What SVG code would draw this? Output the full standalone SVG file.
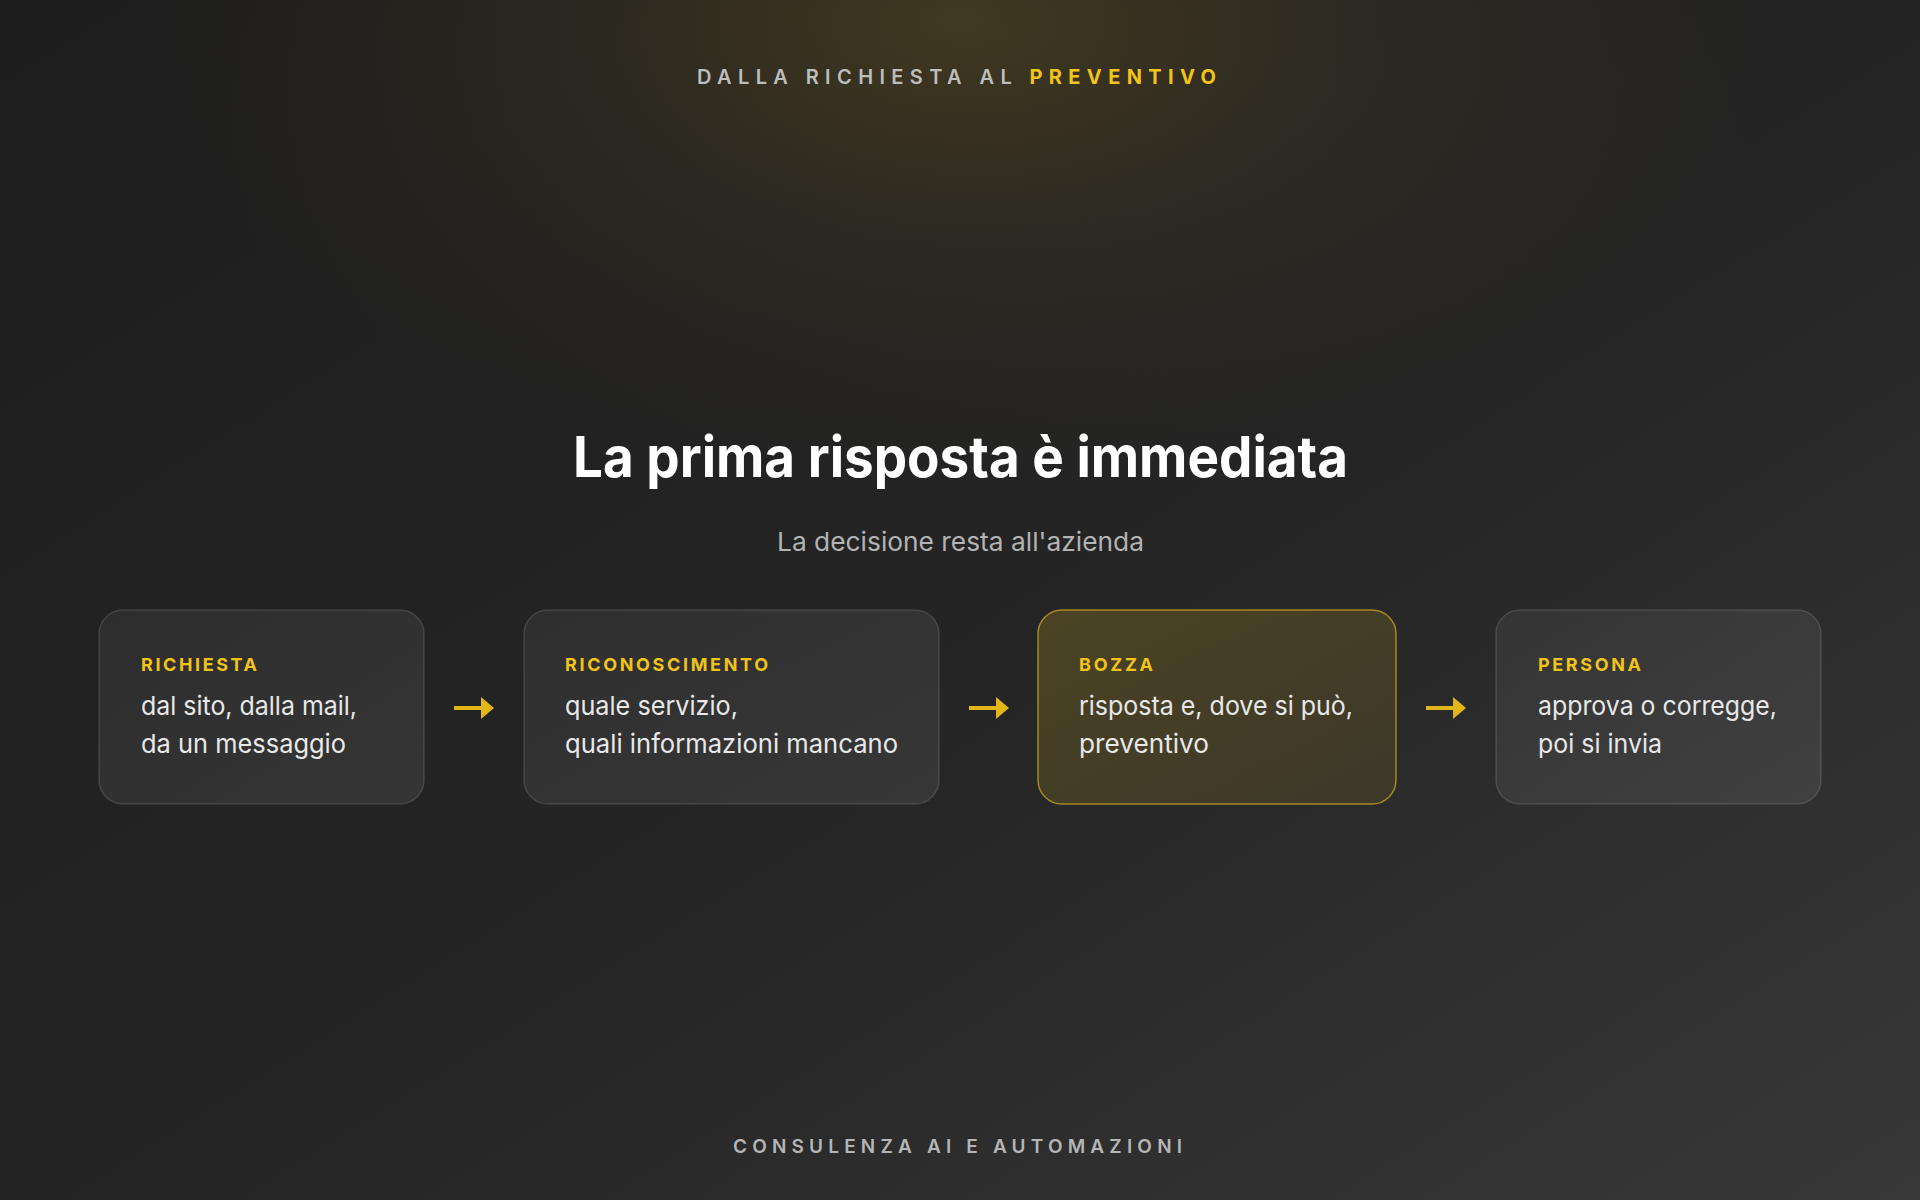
<svg xmlns="http://www.w3.org/2000/svg" width="1920" height="1200" viewBox="0 0 1920 1200">
  <defs>
    <linearGradient id="bg" x1="0" y1="0" x2="1" y2="1">
      <stop offset="0" stop-color="#1d1d1d"/>
      <stop offset="0.55" stop-color="#252525"/>
      <stop offset="1" stop-color="#383838"/>
    </linearGradient>
    <radialGradient id="glow" cx="960" cy="20" r="820" gradientUnits="userSpaceOnUse" gradientTransform="translate(960 20) scale(1 0.55) translate(-960 -20)">
      <stop offset="0" stop-color="#7a6420" stop-opacity="0.36"/>
      <stop offset="0.45" stop-color="#65521e" stop-opacity="0.18"/>
      <stop offset="1" stop-color="#4a3a10" stop-opacity="0"/>
    </radialGradient>
    <linearGradient id="hl" x1="0" y1="0" x2="1" y2="1">
      <stop offset="0" stop-color="#e8c020" stop-opacity="0.20"/>
      <stop offset="1" stop-color="#e8c020" stop-opacity="0.09"/>
    </linearGradient>
    <linearGradient id="card" x1="0" y1="0" x2="1" y2="1">
      <stop offset="0" stop-color="#ffffff" stop-opacity="0.055"/>
      <stop offset="1" stop-color="#ffffff" stop-opacity="0.08"/>
    </linearGradient>
    <marker id="ah" viewBox="0 0 13 22" refX="0" refY="11" markerWidth="13" markerHeight="22" markerUnits="userSpaceOnUse" orient="auto">
      <path d="M0 0 L13 11 L0 22 Z" fill="#e2b518"/>
    </marker>
  </defs>
  <style>
    .sans { font-family: "Inter", "Noto Sans", "Liberation Sans", sans-serif; }
    .eyebrow { font-size: 20px; font-weight: 600; fill: #bdbdbd; }
    .accent { fill: #f2c417; }
    .title { font-size: 56px; font-weight: 700; fill: #ffffff; }
    .sub { font-size: 26px; font-weight: 400; fill: #b3b3b3; }
    .card { fill: url(#card); stroke: #ffffff; stroke-opacity: 0.13; stroke-width: 1.5; }
    .card-hl { fill: url(#hl); stroke: #c9a420; stroke-opacity: 0.75; stroke-width: 1.5; }
    .label { font-size: 18px; font-weight: 700; fill: #f2c417; }
    .body { font-size: 26px; font-weight: 400; fill: #e8e8e8; }
    .conn { stroke: #e2b518; stroke-width: 4; fill: none; }
    .foot { font-size: 19px; font-weight: 600; fill: #b5b5b5; }
  </style>

  <rect x="0" y="0" width="1920" height="1200" fill="url(#bg)"/>
  <rect x="0" y="0" width="1920" height="1200" fill="url(#glow)"/>

  <g id="header">
    <text class="sans eyebrow" x="697" y="84" textLength="519" lengthAdjust="spacing">DALLA RICHIESTA AL <tspan class="accent" font-weight="700">PREVENTIVO</tspan></text>
    <text class="sans title" x="573" y="477" textLength="775" lengthAdjust="spacingAndGlyphs">La prima risposta è immediata</text>
    <text class="sans sub" x="777" y="551" textLength="367" lengthAdjust="spacingAndGlyphs">La decisione resta all'azienda</text>
  </g>

  <g id="node-richiesta">
    <rect class="card" x="99" y="610" width="325" height="194" rx="24"/>
    <text class="sans label" x="141" y="671" textLength="116" lengthAdjust="spacing">RICHIESTA</text>
    <text class="sans body" x="141" y="715" textLength="216" lengthAdjust="spacingAndGlyphs">dal sito, dalla mail,</text>
    <text class="sans body" x="141" y="753" textLength="205" lengthAdjust="spacingAndGlyphs">da un messaggio</text>
  </g>

  <g id="node-riconoscimento">
    <rect class="card" x="524" y="610" width="415" height="194" rx="24"/>
    <text class="sans label" x="565" y="671" textLength="203" lengthAdjust="spacing">RICONOSCIMENTO</text>
    <text class="sans body" x="565" y="715" textLength="173" lengthAdjust="spacingAndGlyphs">quale servizio,</text>
    <text class="sans body" x="565" y="753" textLength="333" lengthAdjust="spacingAndGlyphs">quali informazioni mancano</text>
  </g>

  <g id="node-bozza">
    <rect class="card-hl" x="1038" y="610" width="358" height="194" rx="24"/>
    <text class="sans label" x="1079" y="671" textLength="74" lengthAdjust="spacing">BOZZA</text>
    <text class="sans body" x="1079" y="715" textLength="274" lengthAdjust="spacingAndGlyphs">risposta e, dove si può,</text>
    <text class="sans body" x="1079" y="753" textLength="130" lengthAdjust="spacingAndGlyphs">preventivo</text>
  </g>

  <g id="node-persona">
    <rect class="card" x="1496" y="610" width="325" height="194" rx="24"/>
    <text class="sans label" x="1538" y="671" textLength="103" lengthAdjust="spacing">PERSONA</text>
    <text class="sans body" x="1538" y="715" textLength="239" lengthAdjust="spacingAndGlyphs">approva o corregge,</text>
    <text class="sans body" x="1538" y="753" textLength="124" lengthAdjust="spacingAndGlyphs">poi si invia</text>
  </g>

  <g id="connectors">
    <line class="conn" x1="454" y1="708" x2="481" y2="708" marker-end="url(#ah)"/>
    <line class="conn" x1="969" y1="708" x2="996" y2="708" marker-end="url(#ah)"/>
    <line class="conn" x1="1426" y1="708" x2="1453" y2="708" marker-end="url(#ah)"/>
  </g>

  <g id="footer">
    <text class="sans foot" x="733" y="1153" textLength="449" lengthAdjust="spacing">CONSULENZA AI E AUTOMAZIONI</text>
  </g>
</svg>
